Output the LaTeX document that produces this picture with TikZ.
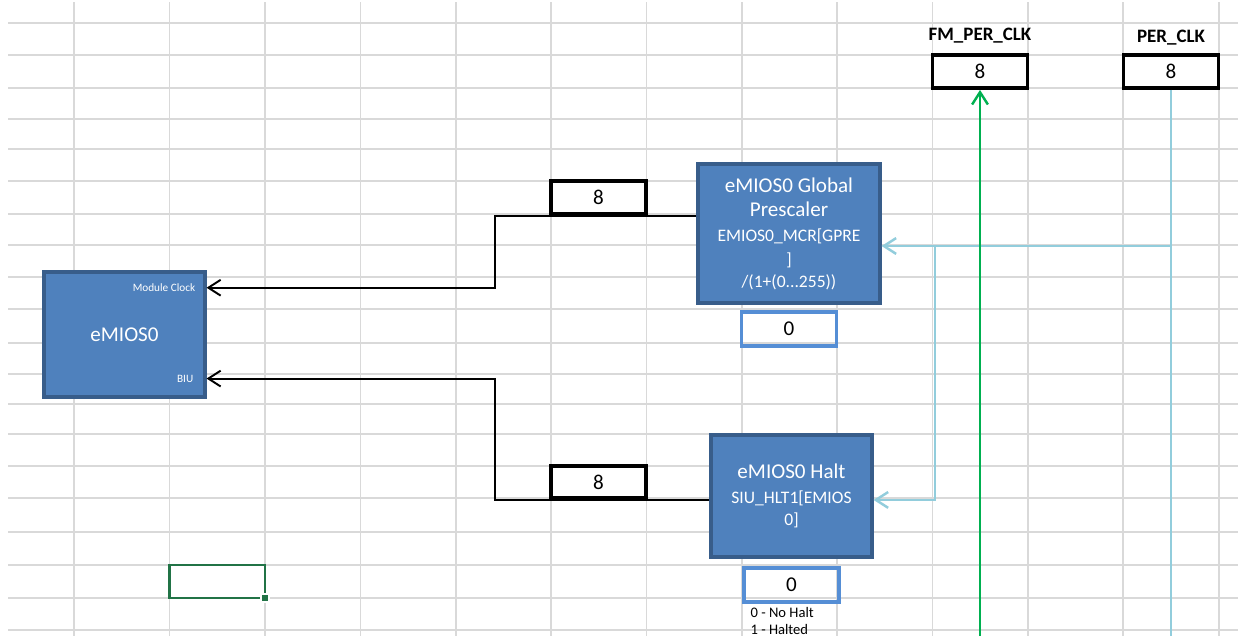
\documentclass[tikz,border=0pt]{standalone}
\usepackage{fontspec}
\setmainfont{Carlito}
\usetikzlibrary{arrows.meta,positioning}

\definecolor{gridgray}{RGB}{217,217,217}
\definecolor{boxfill}{RGB}{79,129,189}
\definecolor{boxedge}{RGB}{56,93,138}
\definecolor{valedge}{RGB}{85,142,213}
\definecolor{clkgreen}{RGB}{0,176,80}
\definecolor{clkblue}{RGB}{146,205,220}
\definecolor{selgreen}{RGB}{33,115,70}

\begin{document}
\begin{tikzpicture}[
    x=0.02cm, y=-0.02cm,
    gridline/.style={draw=gridgray, line width=0.75pt},
    module/.style={rectangle, draw=boxedge, fill=boxfill, line width=1.8pt, text=white, align=center, font=\fontsize{10}{14}\selectfont},
    tag/.style={inner sep=0pt, text=white, font=\fontsize{6.4}{7}\selectfont},
    regval/.style={rectangle, draw=black, line width=2.2pt, minimum width=1.9cm, minimum height=0.66cm, inner sep=0pt, font=\fontsize{12}{14}\selectfont},
    selval/.style={rectangle, draw=valedge, line width=2pt, minimum width=1.9cm, minimum height=0.68cm, inner sep=0pt, font=\fontsize{12}{14}\selectfont},
    clklabel/.style={inner sep=0pt, font=\bfseries\fontsize{10.8}{13}\selectfont},
    note/.style={inner sep=0pt, align=left, font=\fontsize{8.3}{9.4}\selectfont},
    wire/.style={line width=1.1pt},
    greenwire/.style={draw=clkgreen, line width=1.4pt},
    bluewire/.style={draw=clkblue, line width=1.4pt},
    arrow/.style={-{Straight Barb[length=7pt,width=9pt]}}
]

% sheet grid
\path[fill=white, use as bounding box] (0,0) rectangle (1238,636);
\foreach \x in {74,169.5,265,360.5,456,551,646.5,742,837,932.5,1028,1123,1219}
    \draw[gridline] (\x,2) -- (\x,636);
\foreach \y in {23,55,88,119,149,181,214,245,277,309,343,374,404,434,466,498,532,565,598,630}
    \draw[gridline] (8,\y) -- (1238,\y);

% blocks
\node (emios) [module, minimum width=3.22cm, minimum height=2.5cm, font=\fontsize{12}{14}\selectfont] at (124.5,334.5) {eMIOS0};
\node (modclk) [tag, below left=0.26cm and 0.22cm of emios.north east] {Module Clock};
\node (biu) [tag, above left=0.32cm and 0.26cm of emios.south east] {BIU};

\node (gpre) [module, minimum width=3.64cm, minimum height=2.78cm] at (789,233.5)
    {{\fontsize{12}{14}\selectfont eMIOS0 Global}\\{\fontsize{12}{14}\selectfont Prescaler}\\EMIOS0\_MCR[GPRE\\]\\[-2pt]/(1+(0...255))};
\node (pre0) [selval, below=0.11cm of gpre] {0};
\node (pre8) [regval] at (598.5,197.5) {8};

\node (halt) [module, minimum width=3.22cm, minimum height=2.44cm] at (791.5,496)
    {{\fontsize{12}{14}\selectfont eMIOS0 Halt}\\SIU\_HLT1[EMIOS\\[-1.5pt]0]};
\node (halt0) [selval, below=0.15cm of halt] {0};
\node (haltnote) [note, below right=0.07cm and 0.16cm of halt0.south west] {0 - No Halt\\1 - Halted};
\node (halt8) [regval, minimum height=0.64cm] at (598.5,482) {8};

\node (fmclk) [regval] at (980,71.5) {8};
\node (perclk) [regval] at (1171,71.5) {8};
\node (fmlabel) [clklabel, above=0.19cm of fmclk] {FM\_PER\_CLK};
\node (perlabel) [clklabel, above=0.15cm of perclk] {PER\_CLK};

\coordinate (fmend) at (980,636);
\coordinate (perend) at (1171,636);
\coordinate (pertap) at (1171,246);
\coordinate (haltap) at (935,246);

% Arrows
\draw[wire, arrow] (gpre.west |- pre8.south) -- ++(-201,0) |- (emios.east |- modclk);
\draw[wire, arrow] (halt.west |- halt8.south) -- ++(-214,0) |- (emios.east |- biu);
\draw[bluewire] (perclk.south) -- (perend);
\draw[bluewire, arrow] (pertap) -- (pertap -| gpre.east);
\draw[bluewire, arrow] (haltap) |- (halt.east |- halt8.south);
\draw[greenwire, arrow] (fmend) -- (fmclk.south);

% selected cell
\draw[draw=selgreen, line width=1.2pt] (169.5,565) rectangle (265,598);
\node (handle) [fill=selgreen, draw=white, line width=0.6pt, minimum size=0.16cm, inner sep=0pt] at (265,598) {};

\end{tikzpicture}
\end{document}
